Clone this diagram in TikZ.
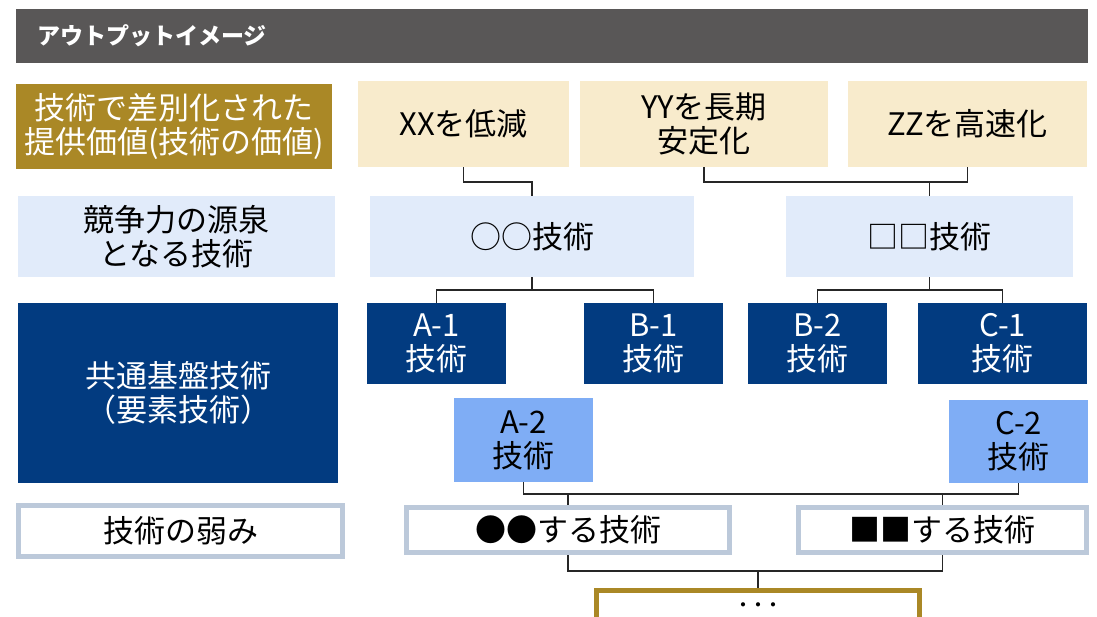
\documentclass[tikz,border=0pt]{standalone}
\usepackage{fontspec}
\setmainfont{Noto Sans CJK JP}
\definecolor{headgray}{RGB}{89,87,87}
\definecolor{valgold}{RGB}{170,136,38}
\definecolor{valbeige}{RGB}{248,235,204}
\definecolor{srcblue}{RGB}{225,235,250}
\definecolor{basenavy}{RGB}{2,59,128}
\definecolor{subblue}{RGB}{127,173,245}
\definecolor{weakgray}{RGB}{188,201,218}
\definecolor{linkgray}{RGB}{38,38,38}
\tikzset{
  cell/.style={inner sep=0pt, align=center, font=\fontsize{31}{34}\selectfont},
  titlebar/.style={fill=headgray, text=white, minimum width=1072pt, minimum height=54pt,
    text width=1030pt, inner xsep=21pt, align=left, font=\fontsize{23}{25}\selectfont\bfseries},
  valbox/.style={cell, fill=valbeige, minimum height=86pt},
  srcbox/.style={cell, fill=srcblue, minimum height=81pt},
  basebox/.style={cell, fill=basenavy, text=white, minimum width=139pt, minimum height=81pt},
  subbox/.style={cell, fill=subblue, minimum width=139pt},
  weakbox/.style={cell, draw=weakgray, fill=white, line width=5pt, minimum height=45pt},
  link/.style={draw=linkgray, line width=1.4pt},
}

\begin{document}
\begin{tikzpicture}[x=1pt,y=-1pt]
  \useasboundingbox (0,0) rectangle (1097,616);
  \clip (0,0) rectangle (1097,616);
  % title bar
  \node[titlebar] (title) at (552,36) {アウトプットイメージ};
  % row labels
  \node[cell, fill=valgold, text=white, minimum width=316pt, minimum height=85pt] (lblvalue) at (174,126.5)
    {技術で差別化された\\提供価値(技術の価値)};
  \node[srcbox, minimum width=317pt] (lblsrc) at (176.5,236.5) {競争力の源泉\\となる技術};
  \node[basebox, minimum width=320pt, minimum height=180pt] (lblbase) at (178,393) {共通基盤技術\\（要素技術）};
  \node[weakbox, minimum width=324pt, minimum height=51pt] (lblweak) at (180.5,531) {技術の弱み};
  % values
  \node[valbox, minimum width=211pt] (xx) at (463.5,124) {XXを低減};
  \node[valbox, minimum width=248pt] (yy) at (704,124) {YYを長期\\安定化};
  \node[valbox, minimum width=239pt] (zz) at (967.5,124) {ZZを高速化};
  % source technologies
  \node[srcbox, minimum width=324pt] (oo) at (532,236.5) {○○技術};
  \node[srcbox, minimum width=287pt] (sq) at (929.5,236.5) {□□技術};
  % base technologies
  \node[basebox] (a1) at (436.5,343.5) {A-1\\技術};
  \node[basebox] (b1) at (653.5,343.5) {B-1\\技術};
  \node[basebox] (b2) at (817.5,343.5) {B-2\\技術};
  \node[basebox, minimum width=169pt] (c1) at (1002.5,343.5) {C-1\\技術};
  \node[subbox, minimum height=84pt] (a2) at (523.5,440) {A-2\\技術};
  \node[subbox, minimum height=83pt] (c2) at (1018.5,441.5) {C-2\\技術};
  % weaknesses
  \node[weakbox, minimum width=323pt] (wa) at (568,530) {●●する技術};
  \node[weakbox, minimum width=288pt] (wb) at (942.5,530) {■■する技術};
  \node[weakbox, draw=valgold, minimum width=323pt, minimum height=33pt,
    font=\fontsize{15}{15}\selectfont\bfseries] (more) at (758,607) {・・・};
  % links
  \draw[link] (xx.south) |- ([yshift=14pt]oo.north) -- (oo.north);
  \draw[link] (yy.south) |- ([yshift=14pt]sq.north) -- (sq.north);
  \draw[link] (zz.south) |- ([yshift=14pt]sq.north) -- (sq.north);
  \foreach \t in {a1,b1} { \draw[link] (oo.south) |- ([yshift=13pt]\t.north) -- (\t.north); }
  \foreach \t in {b2,c1} { \draw[link] (sq.south) |- ([yshift=13pt]\t.north) -- (\t.north); }
  \foreach \s in {a2,c2} { \foreach \t in {wa,wb} { \draw[link] (\s.south) |- ([yshift=11pt]\t.north) -- (\t.north); } }
  \foreach \s in {wa,wb} { \draw[link] (\s.south) |- ([yshift=17pt]more.north) -- (more.north); }
\end{tikzpicture}
\end{document}
